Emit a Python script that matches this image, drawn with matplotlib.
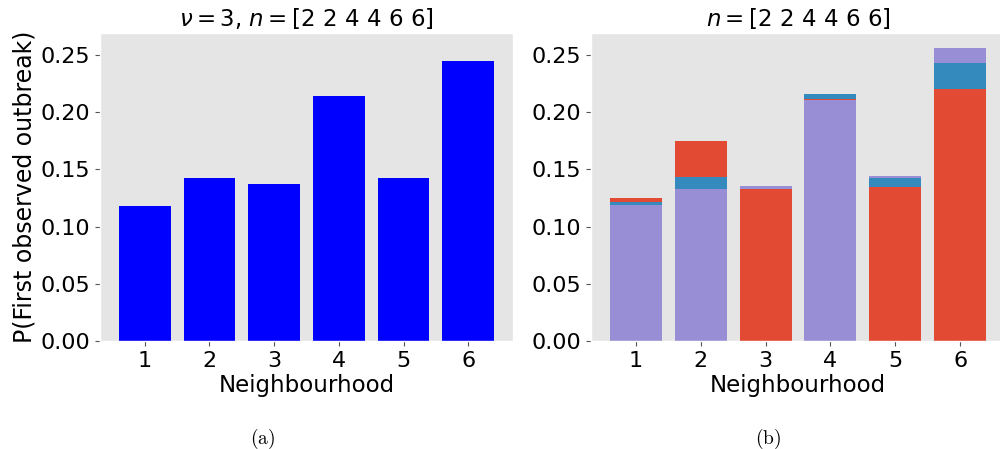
import numpy as np
import matplotlib
matplotlib.use("Agg")
import matplotlib.pyplot as plt

plt.style.use("ggplot")
plt.rcParams["mathtext.fontset"] = "dejavusans"

neighbourhoods = [1, 2, 3, 4, 5, 6]
p_first = [0.1178, 0.1423, 0.1371, 0.2141, 0.1423, 0.2447]

# stacked pieces for panel (b), bottom to top per neighbourhood
red_part = [0.0035, 0.0311, 0.1326, 0.0009, 0.1347, 0.2205]
blue_part = [0.0026, 0.0108, 0.0, 0.0043, 0.0075, 0.0221]
purple_part = [0.1187, 0.1326, 0.0027, 0.2103, 0.0018, 0.0131]
stack_order = [
    ["purple", "blue", "red"],
    ["purple", "blue", "red"],
    ["red", "blue", "purple"],
    ["purple", "red", "blue"],
    ["red", "blue", "purple"],
    ["red", "blue", "purple"],
]

colours = {"red": "#E24A33", "blue": "#348ABD", "purple": "#988ED5"}
parts = {"red": red_part, "blue": blue_part, "purple": purple_part}

fig = plt.figure(figsize=(10, 4.49), dpi=100)
ax1 = fig.add_axes([0.100, 0.2405, 0.413, 0.686])
ax2 = fig.add_axes([0.591, 0.2405, 0.414, 0.686])

ax1.bar(neighbourhoods, p_first, color="#0000FF", width=0.8)
ax1.set_title(r"$\nu = 3$, $n = [2\ 2\ 4\ 4\ 6\ 6]$", fontsize=16.5,
              color="black", pad=5)
ax1.set_ylabel("P(First observed outbreak)", fontsize=17, color="black",
               labelpad=3)

for i, x in enumerate(neighbourhoods):
    bottom = 0.0
    for name in stack_order[i]:
        h = parts[name][i]
        ax2.bar(x, h, bottom=bottom, color=colours[name], width=0.8)
        bottom += h
ax2.set_title(r"$n = [2\ 2\ 4\ 4\ 6\ 6]$", fontsize=16.5, color="black", pad=5)

for ax in (ax1, ax2):
    ax.set_facecolor("#E5E5E5")
    ax.grid(False)
    ax.set_ylim(0, 0.269)
    ax.set_xlim(0.31, 6.69)
    ax.set_xticks(neighbourhoods)
    ax.set_yticks([0.0, 0.05, 0.10, 0.15, 0.20, 0.25])
    ax.set_yticklabels(["0.00", "0.05", "0.10", "0.15", "0.20", "0.25"])
    ax.tick_params(labelsize=16, labelcolor="black", colors="#555555")
    ax.set_xlabel("Neighbourhood", fontsize=16.5, color="black", labelpad=2)

fig.text(0.263, 0.012, r"$\mathrm{(a)}$", fontsize=14, ha="center",
         math_fontfamily="cm")
fig.text(0.768, 0.012, r"$\mathrm{(b)}$", fontsize=14, ha="center",
         math_fontfamily="cm")

fig.savefig("out.png", dpi=100, facecolor="white")
